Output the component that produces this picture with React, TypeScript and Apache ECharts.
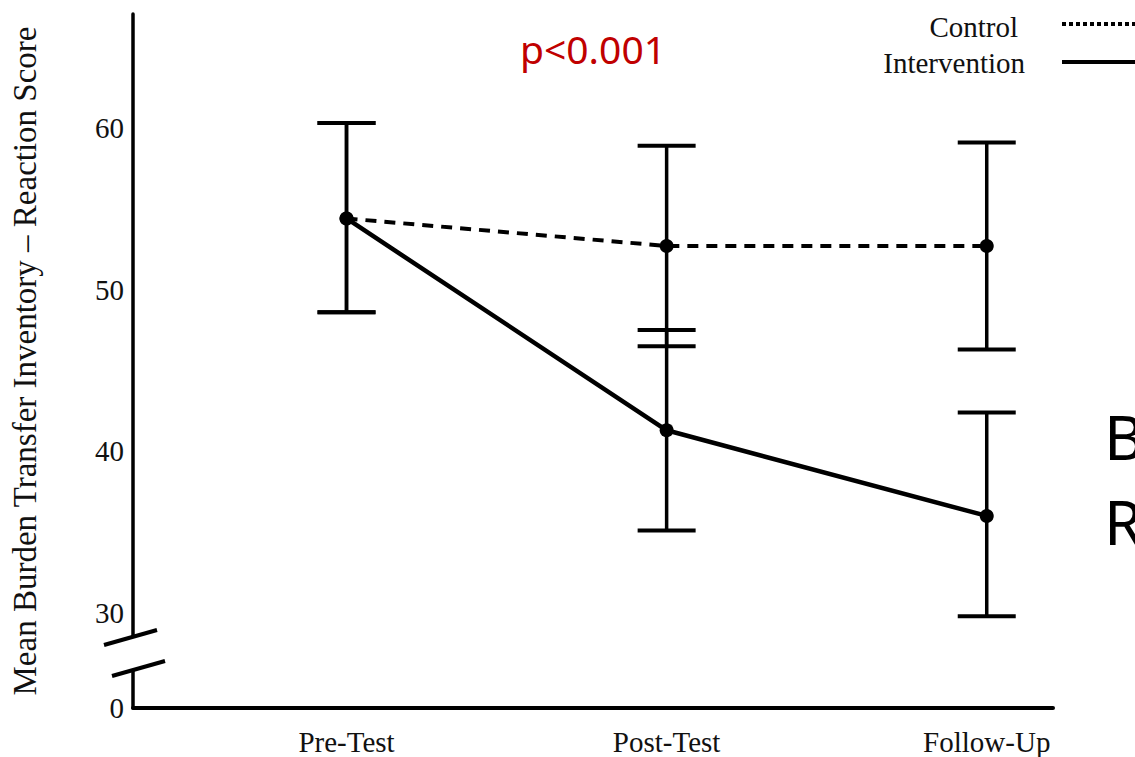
import React, { useEffect, useRef } from "react";
import * as echarts from "echarts";

const categories = ["Pre-Test", "Post-Test", "Follow-Up"];
const categoryPos = [1, 2, 3];

const controlMean = [54.4, 52.7, 52.7];
const controlLow = [48.6, 46.5, 46.3];
const controlHigh = [60.3, 58.9, 59.1];

const interventionMean = [54.4, 41.3, 36.0];
const interventionLow = [48.6, 35.1, 29.8];
const interventionHigh = [60.3, 47.5, 42.4];

const yTickValues = [24.12, 30, 40, 50, 60];
const yTickLabels = ["0", "30", "40", "50", "60"];

const SERIF = "'Liberation Serif', 'Times New Roman', serif";
const SANS = "'Noto Sans', 'Open Sans', sans-serif";

export default function App() {
  const ref = useRef<HTMLDivElement>(null);

  useEffect(() => {
    if (!ref.current) return;
    const chart = echarts.init(ref.current, null, { renderer: "svg" });

    const errData = (lo: number[], hi: number[]) =>
      categoryPos.map((x, i) => [x, lo[i], hi[i]]);

    const renderErr = (params: any, api: any) => {
      const x = api.value(0);
      const lo = api.value(1);
      const hi = api.value(2);
      const top = api.coord([x, hi]);
      const bot = api.coord([x, lo]);
      const hw = 29;
      const st = { stroke: "#000", lineWidth: 3.5 };
      const cap = { stroke: "#000", lineWidth: 4 };
      return {
        type: "group",
        children: [
          { type: "line", shape: { x1: top[0], y1: top[1], x2: bot[0], y2: bot[1] }, style: st },
          { type: "line", shape: { x1: top[0] - hw, y1: top[1], x2: top[0] + hw, y2: top[1] }, style: cap },
          { type: "line", shape: { x1: bot[0] - hw, y1: bot[1], x2: bot[0] + hw, y2: bot[1] }, style: cap },
        ],
      };
    };

    chart.setOption({
      animation: false,
      backgroundColor: "#fff",
      grid: { left: 132, top: 14, right: 82, bottom: 49, containLabel: false },
      xAxis: {
        type: "value",
        min: 0.333,
        max: 3.207,
        splitLine: { show: false },
        axisTick: { show: false },
        axisLine: { show: true, lineStyle: { color: "#000", width: 4 } },
        axisLabel: {
          customValues: categoryPos,
          formatter: (v: number) => categories[Math.round(v) - 1] ?? "",
          fontFamily: SERIF,
          fontSize: 29,
          color: "#111",
          margin: 19,
        },
      },
      yAxis: {
        type: "value",
        min: 24.12,
        max: 67.05,
        splitLine: { show: false },
        axisTick: { show: false },
        axisLine: { show: true, lineStyle: { color: "#000", width: 3.5 } },
        axisLabel: {
          customValues: yTickValues,
          formatter: (v: number) => {
            const i = yTickValues.findIndex((t) => Math.abs(t - v) < 0.01);
            return i >= 0 ? yTickLabels[i] : "";
          },
          fontFamily: SERIF,
          fontSize: 29,
          color: "#111",
          margin: 9,
        },
        name: "Mean Burden Transfer Inventory \u2013 Reaction Score",
        nameLocation: "middle",
        nameRotate: 90,
        nameGap: 92,
        nameTextStyle: { fontFamily: SERIF, fontSize: 33, color: "#111" },
      },
      series: [
        {
          name: "Control error",
          type: "custom",
          renderItem: renderErr,
          encode: { x: 0, y: [1, 2] },
          data: errData(controlLow, controlHigh),
          z: 1,
        },
        {
          name: "Intervention error",
          type: "custom",
          renderItem: renderErr,
          encode: { x: 0, y: [1, 2] },
          data: errData(interventionLow, interventionHigh),
          z: 1,
        },
        {
          name: "Control",
          type: "line",
          data: categoryPos.map((x, i) => [x, controlMean[i]]),
          symbol: "circle",
          symbolSize: 14,
          itemStyle: { color: "#000" },
          lineStyle: { color: "#000", width: 4, type: [11, 8] },
          z: 3,
        },
        {
          name: "Intervention",
          type: "line",
          data: categoryPos.map((x, i) => [x, interventionMean[i]]),
          symbol: "circle",
          symbolSize: 14,
          itemStyle: { color: "#000" },
          lineStyle: { color: "#000", width: 4.5 },
          z: 4,
        },
      ],
      graphic: [
        // axis break
        { type: "rect", shape: { x: 126, y: 638, width: 12, height: 32 }, style: { fill: "#fff" }, z: 100 },
        { type: "line", shape: { x1: 104, y1: 645, x2: 157, y2: 630 }, style: { stroke: "#000", lineWidth: 4 }, z: 101 },
        { type: "line", shape: { x1: 112, y1: 676, x2: 165, y2: 661 }, style: { stroke: "#000", lineWidth: 4 }, z: 101 },
        // legend
        { type: "text", x: 1018, y: 27, style: { text: "Control", font: `29px ${SERIF}`, fill: "#111", align: "right", verticalAlign: "middle" }, z: 100 },
        { type: "text", x: 1025, y: 63, style: { text: "Intervention", font: `29px ${SERIF}`, fill: "#111", align: "right", verticalAlign: "middle" }, z: 100 },
        { type: "line", shape: { x1: 1062, y1: 24, x2: 1140, y2: 24 }, style: { stroke: "#000", lineWidth: 4, lineDash: [4, 3] }, z: 100 },
        { type: "line", shape: { x1: 1062, y1: 62, x2: 1140, y2: 62 }, style: { stroke: "#000", lineWidth: 4 }, z: 100 },
        // annotation
        { type: "text", x: 593, y: 48, style: { text: "p<0.001", font: `39px ${SANS}`, fill: "#C00000", align: "center", verticalAlign: "middle" }, z: 100 },
        // cut-off slide text at the right edge
        { type: "text", x: 1104, y: 436, style: { text: "B", font: `62px ${SANS}`, fill: "#000", align: "left", verticalAlign: "middle", lineHeight: 62 }, z: 100 },
        { type: "text", x: 1104, y: 521, style: { text: "R", font: `62px ${SANS}`, fill: "#000", align: "left", verticalAlign: "middle", lineHeight: 62 }, z: 100 },
      ],
    });

    return () => chart.dispose();
  }, []);

  return (
    <div
      ref={ref}
      style={{ position: "absolute", left: 0, top: 0, width: 1135, height: 757 }}
    />
  );
}
